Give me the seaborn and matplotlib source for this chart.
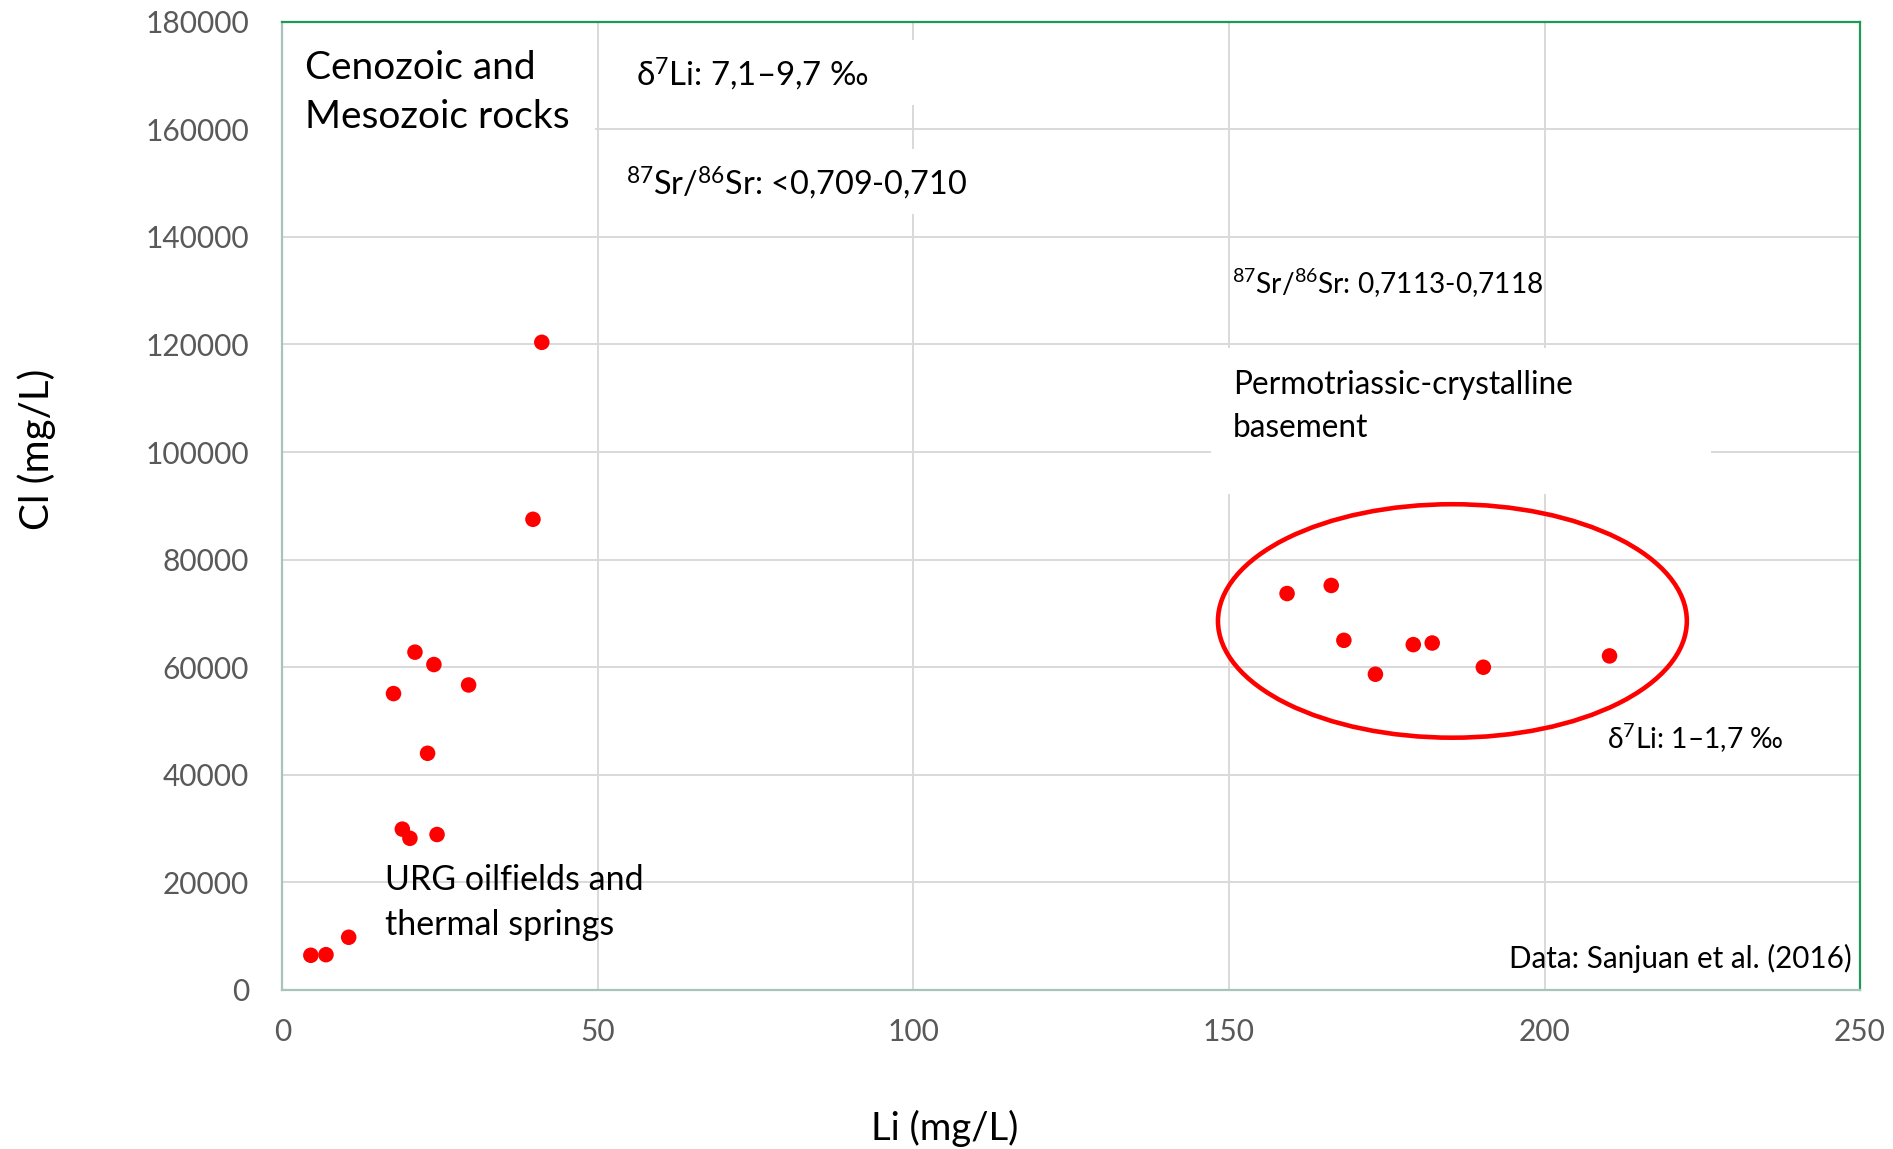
# -*- coding: utf-8 -*-
"""
Li vs Cl scatter - URG oilfields / thermal springs vs crystalline basement
"""

import matplotlib
matplotlib.use('Agg')
import matplotlib.pyplot as plt
from matplotlib.patches import Ellipse, Rectangle
import pandas as pd
import seaborn as sns

# Li (mg/L) and Cl (mg/L)
li_values = [41.1, 39.7, 21.0, 24.0, 29.5, 17.6, 23.0, 19.0, 20.2, 24.5, 4.5, 6.9, 10.5,
             159.2, 166.2, 168.2, 173.2, 179.2, 182.2, 190.3, 210.3]
cl_values = [120400, 87500, 62800, 60500, 56700, 55100, 44000, 29900, 28200, 28900, 6450, 6560, 9800,
             73700, 75200, 65000, 58700, 64200, 64500, 60000, 62100]

x_ticks = [0, 50, 100, 150, 200, 250]
y_ticks = [0, 20000, 40000, 60000, 80000, 100000, 120000, 140000, 160000, 180000]

df = pd.DataFrame({'Li': li_values, 'Cl': cl_values})

sns.set_theme(style='white')
plt.rcParams['font.family'] = ['Lato', 'DejaVu Sans']
plt.rcParams['mathtext.fontset'] = 'custom'
plt.rcParams['mathtext.rm'] = 'Lato'
plt.rcParams['mathtext.it'] = 'Lato:italic'
plt.rcParams['mathtext.bf'] = 'Lato:bold'

fig = plt.figure(figsize=(18.93, 11.49), dpi=100)
ax = fig.add_axes([0.1492, 0.1384, 0.8334, 0.8427])

sns.scatterplot(data=df, x='Li', y='Cl', ax=ax, color='#FF0000', s=125,
                edgecolor='none', zorder=3, legend=False)

ax.set_xlim(0, 250)
ax.set_ylim(0, 180000)
ax.set_xticks(x_ticks)
ax.set_yticks(y_ticks)
ax.set_xticklabels([str(t) for t in x_ticks])
ax.set_yticklabels([str(t) for t in y_ticks])
ax.tick_params(axis='both', length=0, labelsize=21.5, labelcolor='#595959')
ax.tick_params(axis='y', pad=24)
ax.tick_params(axis='x', pad=20)

ax.set_axisbelow(True)
ax.grid(True, color='#D9D9D9', linewidth=1.4)

for side in ['left', 'bottom']:
    ax.spines[side].set_color('#A8C4B8')
    ax.spines[side].set_linewidth(1.6)
for side in ['top', 'right']:
    ax.spines[side].set_color('#1E9A57')
    ax.spines[side].set_linewidth(1.6)

# axis labels
ax.set_xlabel('Li (mg/L)', fontsize=27.5, color='black')
ax.xaxis.set_label_coords(0.42, -0.143)
ax.xaxis.label.set_va('center')
ax.set_ylabel('Cl (mg/L)', fontsize=29, color='black')
ax.yaxis.set_label_coords(-0.1556, 0.558)
ax.yaxis.label.set_va('center')

# white backgrounds behind some of the labels (hide the gridlines there)
for (x0, y0, w, h) in [(0, 157000, 49.6, 21000),
                       (52, 164500, 53, 12100),
                       (52.7, 144300, 58.6, 12000),
                       (147.2, 92200, 79.2, 27100)]:
    ax.add_patch(Rectangle((x0, y0), w, h, facecolor='white', edgecolor='none', zorder=1))

# ellipse around the basement samples
ax.add_patch(Ellipse((185.4, 68600), width=74.3, height=43400, fill=False,
                     edgecolor='#FF0000', linewidth=3.3, zorder=2))

txt = dict(color='black', zorder=4)
ax.text(3.6, 166800, 'Cenozoic and\nMesozoic rocks', fontsize=28, va='center',
        linespacing=1.46, **txt)
ax.text(56.0, 170100, r'δ$^{7}$Li: 7,1–9,7 ‰', fontsize=23.8, va='center', **txt)
ax.text(54.5, 150000, r'$^{87}$Sr/$^{86}$Sr: <0,709-0,710', fontsize=23.3, va='center', **txt)
ax.text(150.5, 131400, r'$^{87}$Sr/$^{86}$Sr: 0,7113-0,7118', fontsize=20.2, va='center', **txt)
ax.text(150.6, 108500, 'Permotriassic-crystalline\nbasement', fontsize=22.8, va='center',
        linespacing=1.54, **txt)
ax.text(209.9, 46700, r'δ$^{7}$Li: 1–1,7 ‰', fontsize=20.3, va='center', **txt)
ax.text(16.2, 16300, 'URG oilfields and\nthermal springs', fontsize=24.5, va='center',
        linespacing=1.5, **txt)
ax.text(248.7, 5900, 'Data: Sanjuan et al. (2016)', fontsize=21.3, va='center', ha='right', **txt)

plt.savefig('out.png', dpi=100)
plt.close()
